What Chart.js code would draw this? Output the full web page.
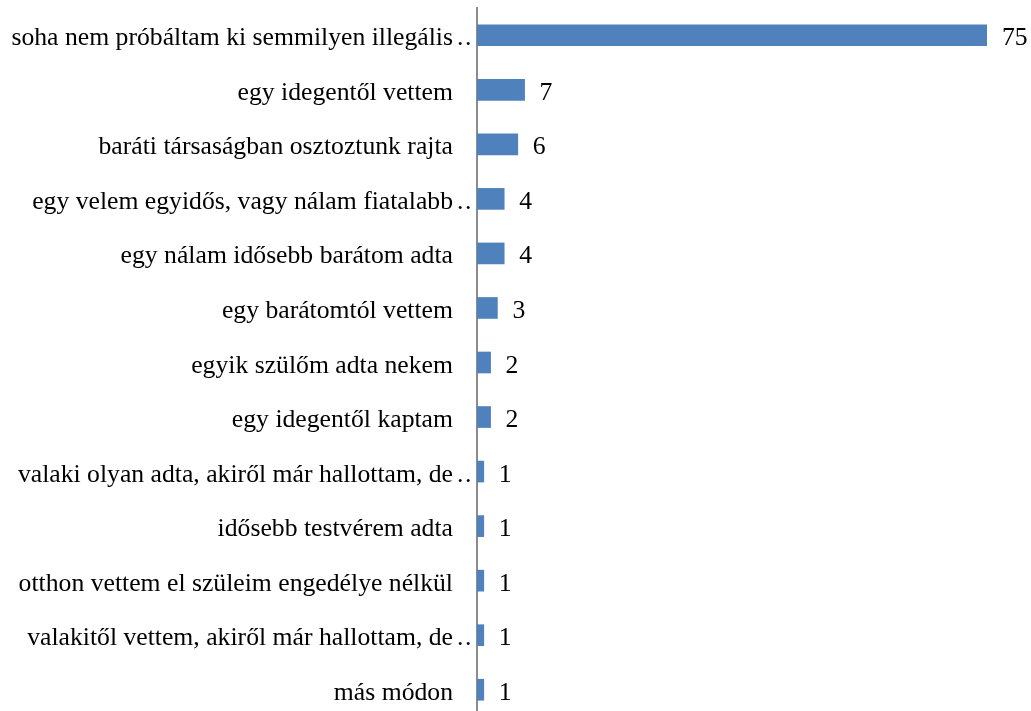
<!DOCTYPE html>
<html>
<head>
<meta charset="utf-8">
<script src="https://cdn.jsdelivr.net/npm/chart.js@4/dist/chart.umd.min.js"></script>
<style>
html,body{margin:0;padding:0;background:#fff;overflow:hidden;}
#wrap{width:1031px;height:711px;overflow:hidden;position:relative;}
#box{width:1031px;height:717px;}
</style>
</head>
<body>
<div id="wrap"><div id="box"><canvas id="c"></canvas></div></div>
<script>
const categories = [
  "soha nem próbáltam ki semmilyen illegális",
  "egy idegentől vettem",
  "baráti társaságban osztoztunk rajta",
  "egy velem egyidős, vagy nálam fiatalabb",
  "egy nálam idősebb barátom adta",
  "egy barátomtól vettem",
  "egyik szülőm adta nekem",
  "egy idegentől kaptam",
  "valaki olyan adta, akiről már hallottam, de",
  "idősebb testvérem adta",
  "otthon vettem el szüleim engedélye nélkül",
  "valakitől vettem, akiről már hallottam, de",
  "más módon"
];
const truncated = [true,false,false,true,false,false,false,false,true,false,false,true,false];
const values = [75,7,6,4,4,3,2,2,1,1,1,1,1];
const xMax = 75;

const FONT = '25.7px "Liberation Serif", "Times New Roman", serif';

const labelsPlugin = {
  id: 'labelsPlugin',
  afterDatasetsDraw(chart) {
    const ctx = chart.ctx;
    const xs = chart.scales.x, ys = chart.scales.y;
    ctx.save();
    ctx.font = FONT;
    ctx.fillStyle = '#000';
    ctx.textBaseline = 'alphabetic';
    categories.forEach((lab, i) => {
      const y = ys.getPixelForValue(i) + 10;
      const x0 = xs.getPixelForValue(0);
      ctx.textAlign = 'right';
      ctx.fillText(lab, x0 - 24, y);
      if (truncated[i]) {
        ctx.textAlign = 'left';
        ctx.fillText('.', x0 - 20, y);
        ctx.fillText('.', x0 - 12, y);
      }
      ctx.textAlign = 'left';
      ctx.fillText(String(values[i]), xs.getPixelForValue(values[i]) + 15, y);
    });
    ctx.restore();
  }
};

new Chart(document.getElementById('c'), {
  type: 'bar',
  data: {
    labels: categories,
    datasets: [{
      data: values,
      backgroundColor: '#4F81BD',
      borderWidth: 0,
      barThickness: 21,
      categoryPercentage: 1,
      barPercentage: 1
    }]
  },
  options: {
    indexAxis: 'y',
    responsive: true,
    maintainAspectRatio: false,
    animation: false,
    layout: { padding: { top: 8, right: 44, bottom: 0, left: 0 } },
    plugins: { legend: { display: false }, tooltip: { enabled: false } },
    scales: {
      x: { display: false, min: 0, max: xMax },
      y: {
        ticks: { display: false },
        grid: { display: false, drawTicks: false },
        border: { display: true, color: '#8C8C8C', width: 2 },
        afterFit(scale) { scale.width = 477; }
      }
    }
  },
  plugins: [labelsPlugin]
});
</script>
</body>
</html>
